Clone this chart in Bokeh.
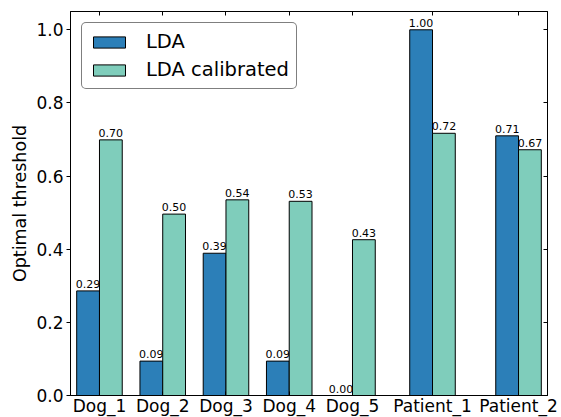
from bokeh.plotting import figure
from bokeh.models import (ColumnDataSource, Range1d, LinearAxis, FixedTicker,
                          Legend, LegendItem, PrintfTickFormatter,
                          CustomJSTickFormatter)
from bokeh.core.properties import value
from bokeh.embed import file_html
from bokeh.resources import INLINE

# ---- data ----
categories = ["Dog_1", "Dog_2", "Dog_3", "Dog_4", "Dog_5", "Patient_1", "Patient_2"]
group_pos = [0, 1, 2, 3, 4, 5.265, 6.625]
lda = [0.286, 0.094, 0.389, 0.094, 0.0, 1.0, 0.710]
lda_calibrated = [0.699, 0.496, 0.535, 0.531, 0.426, 0.717, 0.672]
y_ticks = [0.0, 0.2, 0.4, 0.6, 0.8, 1.0]

BAR_W = 0.36
FONT = "DejaVu Sans"
C_LDA = "#2c7fb8"
C_CAL = "#7fcdbb"

src = ColumnDataSource(dict(
    pos=group_pos,
    x_lda=[g - BAR_W / 2 for g in group_pos],
    x_cal=[g + BAR_W / 2 for g in group_pos],
    lda=lda,
    cal=lda_calibrated,
    lda_txt=["%.2f" % v for v in lda],
    cal_txt=["%.2f" % v for v in lda_calibrated],
))

p = figure(frame_width=477, frame_height=384,
           x_range=Range1d(-0.458, 7.083), y_range=Range1d(0, 1.05),
           output_backend="svg", toolbar_location=None,
           min_border_left=70, min_border_right=14, min_border_top=11,
           min_border_bottom=20)
p.xgrid.visible = False
p.ygrid.visible = False
p.outline_line_color = "black"
p.outline_line_width = 1
p.outline_line_alpha = 1

r1 = p.vbar(x="x_lda", top="lda", width=BAR_W, source=src,
            fill_color=C_LDA, line_color="black", line_width=1)
t1 = p.text(x="x_lda", y="lda", text="lda_txt", source=src,
            text_align="center", text_baseline="bottom", y_offset=-3,
            text_font=value(FONT), text_font_size="11px", text_color="black")
r2 = p.vbar(x="x_cal", top="cal", width=BAR_W, source=src,
            fill_color=C_CAL, line_color="black", line_width=1)
t2 = p.text(x="x_cal", y="cal", text="cal_txt", source=src,
            text_align="center", text_baseline="bottom", y_offset=-3,
            text_font=value(FONT), text_font_size="11px", text_color="black")

# x axis (bottom)
xa = p.xaxis[0]
xa.ticker = FixedTicker(ticks=group_pos)
xa.major_label_overrides = {g: c for g, c in zip(group_pos, categories)}
xa.major_label_text_font = FONT
xa.major_label_text_font_size = "17px"
xa.major_label_text_color = "black"
xa.major_label_standoff = 0
xa.major_tick_in = 4
xa.major_tick_out = 0
xa.minor_tick_line_color = None
xa.axis_line_color = "black"

# y axis (left)
ya = p.yaxis[0]
ya.ticker = FixedTicker(ticks=y_ticks)
ya.formatter = PrintfTickFormatter(format="%.1f")
ya.axis_label = "Optimal threshold"
ya.axis_label_text_font = FONT
ya.axis_label_text_font_size = "17.5px"
ya.axis_label_text_font_style = "normal"
ya.axis_label_text_color = "black"
ya.axis_label_standoff = 3
ya.major_label_text_font = FONT
ya.major_label_text_font_size = "17px"
ya.major_label_text_color = "black"
ya.major_label_standoff = 3
ya.major_tick_in = 0
ya.major_tick_out = 4
ya.minor_tick_line_color = None
ya.axis_line_color = "black"

# top & right axes: tick marks only
blank = CustomJSTickFormatter(code="return '';")
top = LinearAxis(ticker=FixedTicker(ticks=group_pos), major_tick_in=4,
                 major_tick_out=0, minor_tick_line_color=None,
                 formatter=blank, major_label_text_font_size="1px",
                 major_label_standoff=0, axis_line_color="black")
right = LinearAxis(ticker=FixedTicker(ticks=y_ticks), major_tick_in=4,
                   major_tick_out=0, minor_tick_line_color=None,
                   formatter=blank, major_label_text_font_size="1px",
                   major_label_standoff=0, axis_line_color="black")
p.add_layout(top, "above")
p.add_layout(right, "right")

legend = Legend(items=[LegendItem(label="LDA", renderers=[r1]),
                       LegendItem(label="LDA calibrated", renderers=[r2])],
                location="top_left", margin=11, padding=7, spacing=5,
                glyph_width=40, glyph_height=14, label_standoff=17,
                label_height=23, label_text_font=FONT,
                label_text_font_size="19.5px", label_text_color="black",
                border_line_color="black", border_line_width=1,
                border_radius=5, background_fill_color="white",
                background_fill_alpha=1)
p.add_layout(legend)

open("out.html", "w").write(file_html(p, INLINE))
